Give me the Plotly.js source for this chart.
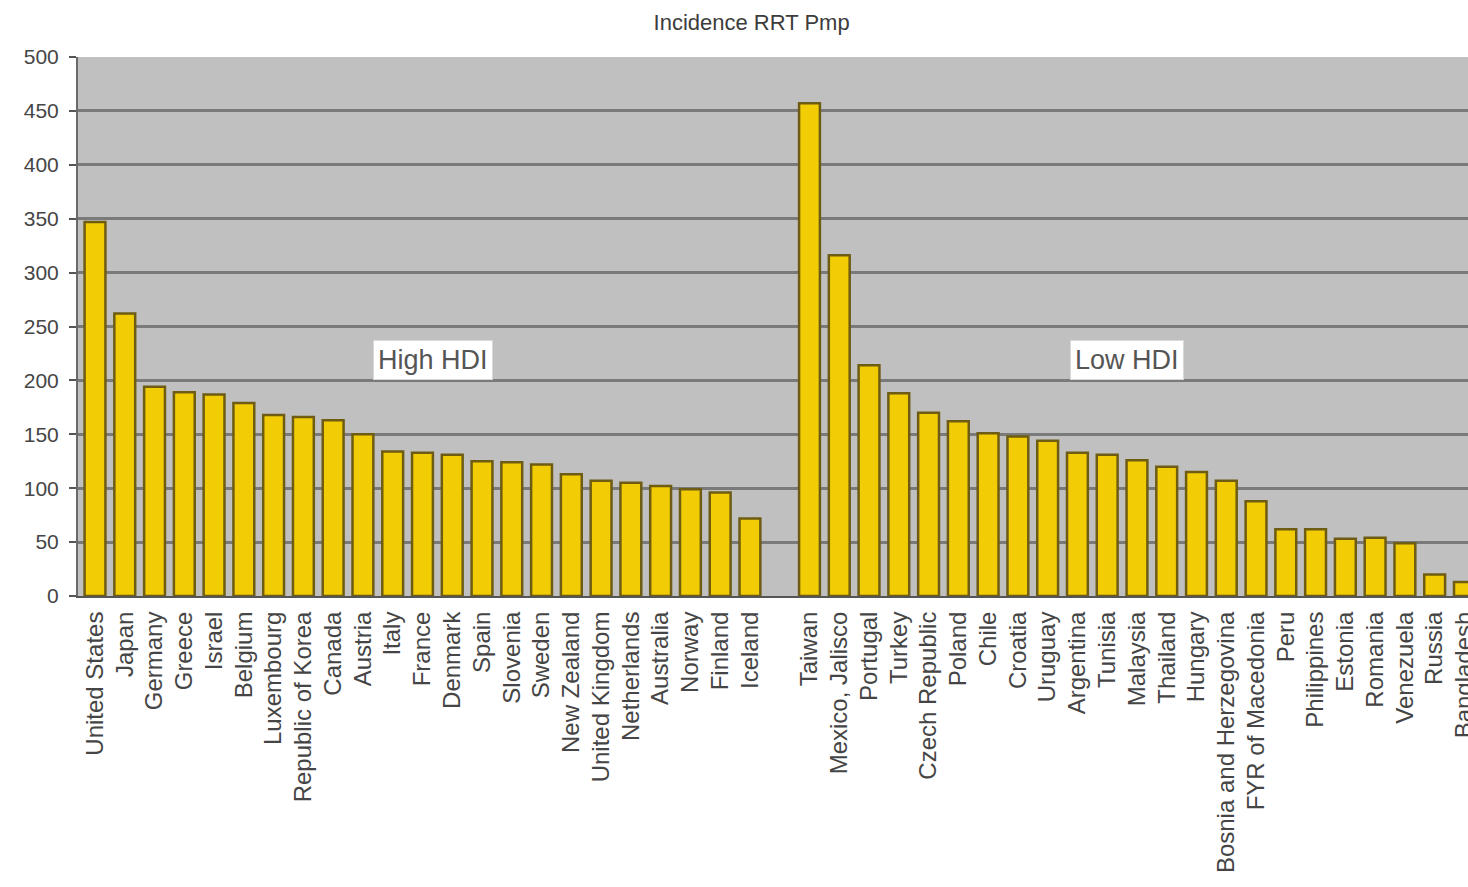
<!DOCTYPE html>
<html>
<head>
<meta charset="utf-8">
<script src="https://cdn.plot.ly/plotly-3.0.1.min.js"></script>
<style>
html,body{margin:0;padding:0;background:#fff;overflow:hidden;}
#chart{width:1468px;height:887px;}
</style>
</head>
<body>
<div id="chart"></div>
<script>
// High HDI countries and incidence of RRT (per million population)
var highCountries = ["United States","Japan","Germany","Greece","Israel","Belgium","Luxembourg","Republic of Korea","Canada","Austria","Italy","France","Denmark","Spain","Slovenia","Sweden","New Zealand","United Kingdom","Netherlands","Australia","Norway","Finland","Iceland"];
var highValues = [347,262,194,189,187,179,168,166,163,150,134,133,131,125,124,122,113,107,105,102,99,96,72];

// Low HDI countries
var lowCountries = ["Taiwan","Mexico, Jalisco","Portugal","Turkey","Czech Republic","Poland","Chile","Croatia","Uruguay","Argentina","Tunisia","Malaysia","Thailand","Hungary","Bosnia and Herzegovina","FYR of Macedonia","Peru","Philippines","Estonia","Romania","Venezuela","Russia","Bangladesh"];
var lowValues = [457,316,214,188,170,162,151,148,144,133,131,126,120,115,107,88,62,62,53,54,49,20,13];

var spacer = " ";
var yTicks = [0,50,100,150,200,250,300,350,400,450,500];

var categories = highCountries.concat([spacer], lowCountries);
var values = highValues.concat([null], lowValues);

var trace = {
  type: "bar",
  x: categories,
  y: values,
  marker: {color: "#f2cd06", line: {color: "#6e5c12", width: 2.5}},
  hoverinfo: "x+y"
};

var fontFam = "Liberation Sans, Arial, sans-serif";
var layout = {
  width: 1468,
  height: 887,
  margin: {l: 78, r: 0, t: 57, b: 291},
  paper_bgcolor: "#ffffff",
  plot_bgcolor: "#c0c0c0",
  showlegend: false,
  bargap: 0.3,
  title: {text: "Incidence RRT Pmp", font: {family: fontFam, size: 22, color: "#3c3c3c"},
          x: 0.512, xref: "container", y: 0.975, yref: "container", yanchor: "middle"},
  xaxis: {
    type: "category",
    categoryorder: "array",
    categoryarray: categories,
    range: [-0.571, 46.12],
    tickangle: -90,
    tickfont: {family: fontFam, size: 24, color: "#454545"},
    showgrid: false,
    showline: true, linecolor: "#555555", linewidth: 2,
    ticks: "", ticklabelstandoff: 4, fixedrange: true
  },
  yaxis: {
    range: [0, 500],
    tickvals: yTicks,
    ticktext: yTicks.map(String),
    tickfont: {family: fontFam, size: 21, color: "#454545"},
    showgrid: true, gridcolor: "#7a7a7a", gridwidth: 3,
    zeroline: false,
    showline: true, linecolor: "#6a6a6a", linewidth: 2,
    ticks: "outside", ticklen: 7, tickcolor: "#555555", tickwidth: 2,
    ticklabelstandoff: 6,
    fixedrange: true
  },
  annotations: [
    {text: "High HDI", x: 11.35, y: 219, xref: "x", yref: "y", showarrow: false,
     font: {family: fontFam, size: 27, color: "#555555"}, bgcolor: "#ffffff",
     bordercolor: "#d8d8d8", borderwidth: 1, borderpad: 4},
    {text: "Low HDI", x: 34.67, y: 219, xref: "x", yref: "y", showarrow: false,
     font: {family: fontFam, size: 27, color: "#555555"}, bgcolor: "#ffffff",
     bordercolor: "#d8d8d8", borderwidth: 1, borderpad: 4}
  ]
};

Plotly.newPlot("chart", [trace], layout, {displayModeBar: false, staticPlot: true});
</script>
</body>
</html>
